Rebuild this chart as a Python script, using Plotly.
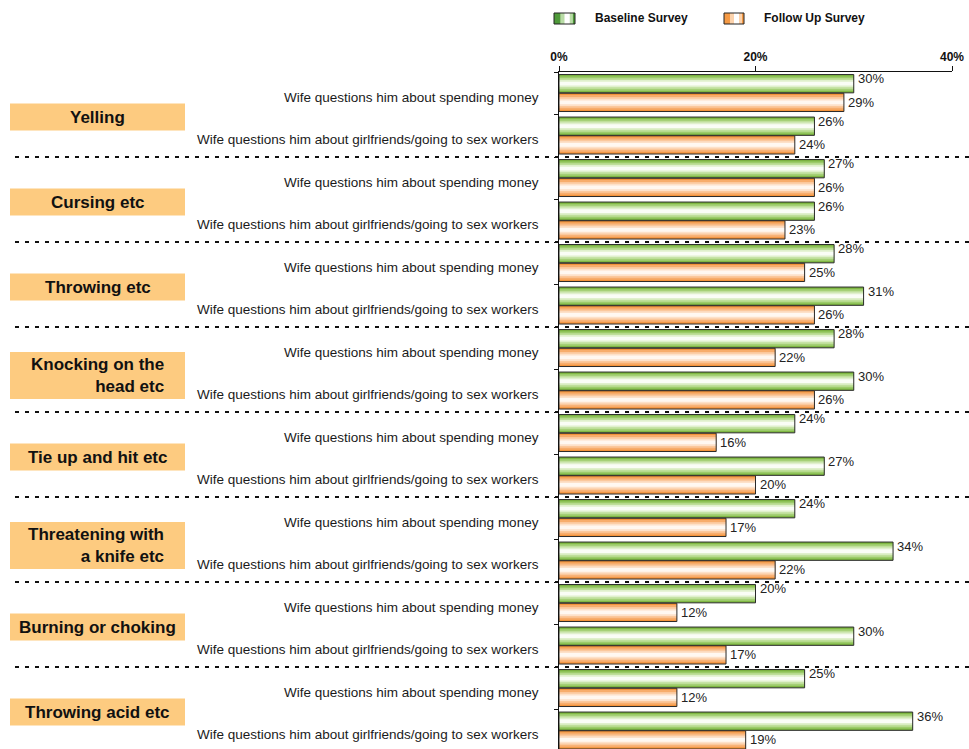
import plotly.graph_objects as go

groups = ["Yelling", "Cursing etc", "Throwing etc", "Knocking on the<br>head etc",
          "Tie up and hit etc", "Threatening with<br>a knife etc", "Burning or choking",
          "Throwing acid etc"]
subcats = ["Wife questions him about spending money",
           "Wife questions him about girlfriends/going to sex workers"]
baseline = [30, 26, 27, 26, 28, 31, 28, 30, 24, 27, 24, 34, 20, 30, 25, 36]
followup = [29, 24, 26, 23, 25, 26, 22, 26, 16, 20, 17, 22, 12, 17, 12, 19]
xticks = [0, 20, 40]
xticklabels = ["0%", "20%", "40%"]

OFF = 0
W, H = 969 - OFF, 749 - OFF
L, T, B = 559 - OFF, 72 - OFF, 0
R = W - (952 - OFF)
PW = W - L - R
PH = H - T - B
SLOT = 42.5
FONT = "Liberation Sans, Arial"


def px2paper_x(px):
    return (px - OFF - L) / PW


def px2paper_y(py):
    return (H - B - (py - OFF)) / PH


n = len(baseline)
ypos = list(range(n))
labels_y = [subcats[i % 2] for i in range(n)]

fig = go.Figure()

green_layers = ["#7fb843", "#9ccb6a", "#bfdf9a", "#e0f0cd", "#fafdf6"]
orange_layers = ["#f4933a", "#f7ad6c", "#fbc89c", "#fde1c9", "#fff8f1"]
fracs = [1.0, 0.8, 0.6, 0.4, 0.2]


def add_series(vals, off, wid, colors, name):
    for f, c in zip(fracs, colors):
        w = wid * f
        o = off + (wid - w) / 2
        fig.add_trace(go.Bar(x=vals, y=ypos, orientation="h", width=w, offset=o,
                             marker=dict(color=c, line=dict(width=0)),
                             showlegend=False, hoverinfo="skip", name=name))
    fig.add_trace(go.Bar(x=vals, y=ypos, orientation="h", width=wid, offset=off,
                         marker=dict(color="rgba(0,0,0,0)", line=dict(width=1, color="#2a2a2a")),
                         showlegend=False, name=name))


GW = 0.43
add_series(baseline, -0.44, GW, green_layers, "Baseline Survey")
add_series(followup, 0.0, GW, orange_layers, "Follow Up Survey")

annotations = []
for i in range(n):
    annotations.append(dict(x=baseline[i], y=i - 0.44 + GW / 2, xref="x", yref="y",
                            text=f"{baseline[i]}%", showarrow=False, xanchor="left",
                            yanchor="middle", xshift=2, yshift=5,
                            font=dict(family=FONT, size=13, color="#222")))
    annotations.append(dict(x=followup[i], y=i + GW / 2, xref="x", yref="y",
                            text=f"{followup[i]}%", showarrow=False, xanchor="left",
                            yanchor="middle", xshift=2, yshift=0,
                            font=dict(family=FONT, size=13, color="#222")))
    annotations.append(dict(x=px2paper_x(541), y=i, xref="paper", yref="y",
                            text=labels_y[i], showarrow=False, xanchor="right",
                            yanchor="middle", yshift=-4,
                            font=dict(family=FONT, size=13.5, color="#1a1a1a")))

shapes = []
for g, name in enumerate(groups):
    two = "<br>" in name
    hgt = (47 if two else 27) / SLOT
    cy = 2 * g + 0.5 + (0.14 if two else 0.06)
    shapes.append(dict(type="rect", xref="paper", yref="y",
                       x0=px2paper_x(10), x1=px2paper_x(185),
                       y0=cy - hgt / 2, y1=cy + hgt / 2,
                       fillcolor="#fdcb80", line=dict(width=0), layer="below"))
    if two:
        annotations.append(dict(x=px2paper_x(166), y=cy, xref="paper", yref="y",
                                text=name, showarrow=False, xanchor="right", align="right",
                                yanchor="middle",
                                font=dict(family=FONT, size=17, color="#111", weight="bold")))
    else:
        annotations.append(dict(x=px2paper_x(97.5), y=cy, xref="paper", yref="y",
                                text=name, showarrow=False, xanchor="center",
                                yanchor="middle",
                                font=dict(family=FONT, size=17, color="#111", weight="bold")))

for g in range(len(groups) - 1):
    yb = 2 * g + 1.5
    shapes.append(dict(type="line", xref="paper", yref="y",
                       x0=px2paper_x(15), x1=px2paper_x(969), y0=yb, y1=yb,
                       line=dict(color="#111", width=2, dash="4px,6px")))


def swatch(x0, x1, base, light):
    y0, y1 = px2paper_y(24), px2paper_y(13)
    shapes.append(dict(type="rect", xref="paper", yref="paper", x0=px2paper_x(x0), x1=px2paper_x(x1),
                       y0=y0, y1=y1, fillcolor=base, line=dict(width=0)))
    shapes.append(dict(type="rect", xref="paper", yref="paper",
                       x0=px2paper_x(x0 + (x1 - x0) * 0.3), x1=px2paper_x(x0 + (x1 - x0) * 0.9),
                       y0=y0, y1=y1, fillcolor=light, line=dict(width=0)))
    shapes.append(dict(type="rect", xref="paper", yref="paper",
                       x0=px2paper_x(x0 + (x1 - x0) * 0.5), x1=px2paper_x(x0 + (x1 - x0) * 0.75),
                       y0=y0, y1=y1, fillcolor="#ffffff", line=dict(width=0)))
    shapes.append(dict(type="rect", xref="paper", yref="paper", x0=px2paper_x(x0), x1=px2paper_x(x1),
                       y0=y0, y1=y1, fillcolor="rgba(0,0,0,0)", line=dict(width=1, color="#222")))


swatch(554, 575, "#4f9a3a", "#b9dca6")
swatch(724, 744, "#f59a45", "#fcd3ad")
annotations.append(dict(x=px2paper_x(593), y=px2paper_y(18.5), xref="paper", yref="paper",
                        text="Baseline Survey", showarrow=False, xanchor="left", yanchor="middle",
                        font=dict(family=FONT, size=12, color="#111", weight="bold")))
annotations.append(dict(x=px2paper_x(762), y=px2paper_y(18.5), xref="paper", yref="paper",
                        text="Follow Up Survey", showarrow=False, xanchor="left", yanchor="middle",
                        font=dict(family=FONT, size=12, color="#111", weight="bold")))

bounds = [i - 0.5 for i in range(n + 1)]

fig.update_layout(
    width=W, height=H,
    margin=dict(l=L, r=R, t=T, b=B, pad=0),
    barmode="overlay",
    plot_bgcolor="white", paper_bgcolor="white",
    showlegend=False,
    hovermode=False,
    annotations=annotations, shapes=shapes,
    xaxis=dict(side="top", range=[0, 40], tickvals=xticks, ticktext=xticklabels,
               ticks="outside", ticklen=5, tickcolor="#111", showline=True, linecolor="#111",
               linewidth=1, showgrid=False, zeroline=False,
               tickfont=dict(family=FONT, size=12, color="#111", weight="bold")),
    yaxis=dict(range=[(H - B - T) / SLOT - 0.5, -0.5], tickvals=bounds,
               ticktext=["" for _ in bounds], ticks="outside", ticklen=4, tickcolor="#111",
               showline=True, linecolor="#111", linewidth=1, showgrid=False, zeroline=False),
)

fig.write_html("out.html", config={"displayModeBar": False},
               post_script="document.body.style.margin='0';document.body.style.overflow='hidden';")
